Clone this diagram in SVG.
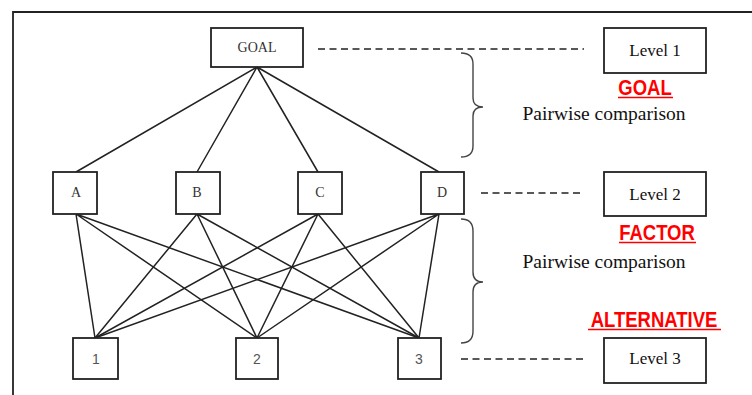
<svg xmlns="http://www.w3.org/2000/svg" width="752" height="395" viewBox="0 0 752 395">
<style>
.box{fill:#fff;stroke:#222;stroke-width:1.8}
.ln{stroke:#222;stroke-width:1.5;fill:none}
.dash{stroke:#222;stroke-width:1.6;stroke-dasharray:7 4.5;fill:none}
.brace{stroke:#444;stroke-width:1.4;fill:none}
.small{font-family:"Liberation Serif",serif;font-size:14px;fill:#333;text-anchor:middle}
.num{font-family:"Liberation Sans",sans-serif;font-size:14px;fill:#555;text-anchor:middle}
.lvl{font-family:"Liberation Serif",serif;font-size:17px;fill:#111;text-anchor:middle}
.pw{font-family:"Liberation Serif",serif;font-size:19.5px;fill:#111;text-anchor:middle}
.red{font-family:"Liberation Sans",sans-serif;font-weight:bold;font-size:18.5px;fill:#f00;text-anchor:middle}
.ul{stroke:#f00;stroke-width:1.5}
</style>
<rect width="752" height="395" fill="#fff"/>
<path d="M13,395 V12 H752" stroke="#222" stroke-width="1.8" fill="none"/>
<g id="connectors">
<path class="ln" d="M257,67 L76,172 M257,67 L197,172 M257,67 L318,172 M257,67 L439,172"/>
<path class="ln" d="M76,214 L95,338 M76,214 L257,338 M76,214 L419,338"/>
<path class="ln" d="M197,214 L95,338 M197,214 L257,338 M197,214 L419,338"/>
<path class="ln" d="M318,214 L95,338 M318,214 L257,338 M318,214 L419,338"/>
<path class="ln" d="M439,214 L95,338 M439,214 L257,338 M439,214 L419,338"/>
<path class="dash" d="M318,49 H584"/>
<path class="dash" d="M481,193 H580"/>
<path class="dash" d="M461,359 H584"/>
</g>
<g id="goal"><rect class="box" x="211" y="28" width="92" height="39"/><text class="small" x="257" y="52">GOAL</text></g>
<g id="A"><rect class="box" x="53" y="172" width="44" height="42"/><text class="small" x="76" y="197">A</text></g>
<g id="B"><rect class="box" x="176" y="172" width="44" height="42"/><text class="small" x="197" y="197">B</text></g>
<g id="C"><rect class="box" x="298" y="172" width="44" height="42"/><text class="small" x="320" y="197">C</text></g>
<g id="D"><rect class="box" x="421" y="172" width="43" height="42"/><text class="small" x="442" y="197">D</text></g>
<g id="n1"><rect class="box" x="73" y="338" width="45" height="41"/><text class="num" x="96" y="364">1</text></g>
<g id="n2"><rect class="box" x="236" y="338" width="42" height="41"/><text class="num" x="257" y="364">2</text></g>
<g id="n3"><rect class="box" x="398" y="338" width="43" height="41"/><text class="num" x="419" y="364">3</text></g>
<g id="level1"><rect class="box" x="604" y="28" width="102" height="45"/><text class="lvl" x="655" y="56">Level 1</text></g>
<g id="level2"><rect class="box" x="604" y="172" width="102" height="44"/><text class="lvl" x="655" y="200">Level 2</text></g>
<g id="level3"><rect class="box" x="604" y="338" width="102" height="45"/><text class="lvl" x="655" y="364">Level 3</text></g>
<g id="brace1"><path class="brace" d="M461,53 Q473,53 473,64 L473,98 Q473,107 483,107 Q473,107 473,116 L473,146 Q473,157 461,157"/></g>
<g id="brace2"><path class="brace" d="M461,219 Q473,219 473,231 L473,272 Q473,282 483,282 Q473,282 473,292 L473,331 Q473,343 461,343"/></g>
<g id="labels">
<text class="red" transform="translate(645,95) scale(1,1.15)">GOAL</text><line class="ul" x1="618" y1="97.5" x2="673" y2="97.5"/>
<text class="pw" x="604" y="120">Pairwise comparison</text>
<text class="red" transform="translate(657,240) scale(1,1.15)">FACTOR</text><line class="ul" x1="619" y1="242.5" x2="696" y2="242.5"/>
<text class="pw" x="604" y="268">Pairwise comparison</text>
<text class="red" transform="translate(654,327) scale(1,1.15)">ALTERNATIVE</text><line class="ul" x1="588" y1="329.5" x2="721" y2="329.5"/>
</g>
</svg>
